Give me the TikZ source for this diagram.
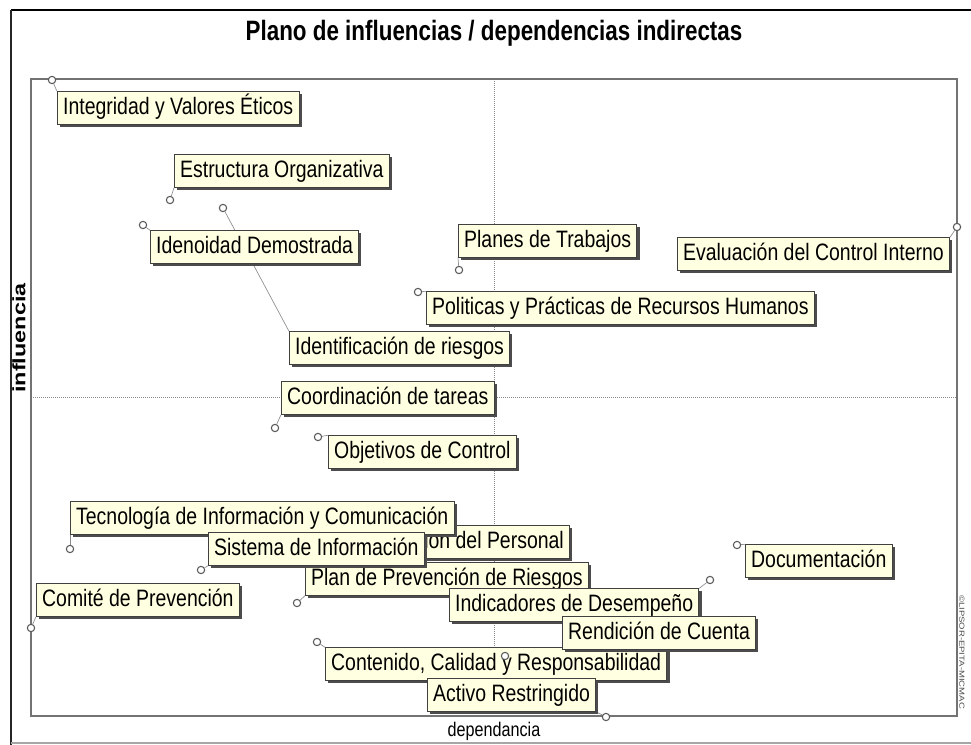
\documentclass[tikz,border=0pt]{standalone}
\usepackage{fontspec}
\setmainfont[FakeStretch=0.82]{Liberation Sans}
\newfontfamily\titlefont[FakeStretch=0.8]{Liberation Sans}
\newfontfamily\widefont[FakeStretch=1.3]{Liberation Sans}
\usetikzlibrary{shadows,backgrounds}
\definecolor{cream}{HTML}{FFFFE1}
\begin{document}
\begin{tikzpicture}[x=0.75pt,y=-0.75pt,
  lbl/.style={draw=black!75, line width=0.6pt, fill=cream, anchor=west,
    font=\fontsize{17.8}{20}\selectfont, inner xsep=4.3pt, inner ysep=0pt,
    minimum height=24.5pt, text height=12.9pt, text depth=3.7pt,
    drop shadow={shadow xshift=2pt,shadow yshift=-2pt,fill=black!70,opacity=1}},
  pt/.style={circle, draw=black!65, fill=white, line width=0.8pt, inner sep=0pt, minimum size=5.5pt},
  conn/.style={draw=black!45, line width=0.5pt},
  gridline/.style={black!45, densely dotted, line width=0.5pt}]
\useasboundingbox (0,0) rectangle (971,745);
% outer frame
\draw[black, line width=1.8pt] (11,10) -- (971,10);
\draw[black!85, line width=1.5pt] (11,10) -- (11,745);
\draw[black!35, line width=0.8pt] (11,743) -- (971,743);
% plot frame and mid lines
\draw[gridline] (494,79) -- (494,716);
\draw[gridline] (31,397) -- (957,397);
\draw[black!55, line width=1.4pt] (31,79) rectangle (957,716);
% title and axes
\node[font=\titlefont\bfseries\fontsize{21}{24}\selectfont] (title) at (494,33) {Plano de influencias / dependencias indirectas};
\node[font=\fontsize{14.8}{16}\selectfont] (xlab) at (494,731) {dependancia};
\node[rotate=90, font=\widefont\bfseries\fontsize{13.5}{15}\selectfont] (ylab) at (19,338) {influencia};
\node[rotate=-90, font=\widefont\fontsize{5.5}{6}\selectfont, text=black!70] (copy) at (962,652) {©LIPSOR-EPITA-MICMAC};
% labels
\node[lbl] (integ) at (57,108) {Integridad y Valores Éticos};
\node[lbl] (estr) at (174,171) {Estructura Organizativa};
\node[lbl] (iden) at (150,247) {Idenoidad Demostrada};
\node[lbl] (planes) at (458,241) {Planes de Trabajos};
\node[lbl] (eval) at (677,254) {Evaluación del Control Interno};
\node[lbl] (polit) at (426,308) {Politicas y Prácticas de Recursos Humanos};
\node[lbl] (ident) at (289,348) {Identificación de riesgos};
\node[lbl] (coord) at (281,398) {Coordinación de tareas};
\node[lbl] (objet) at (328,452) {Objetivos de Control};
\node[lbl, anchor=east] (pers) at (570,542) {Capacitación del Personal};
\node[lbl] (tecno) at (70,518) {Tecnología de Información y Comunicación};
\node[lbl] (planp) at (305,579) {Plan de Prevención de Riesgos};
\node[lbl] (sist) at (208,549) {Sistema de Información};
\node[lbl] (comite) at (36,600) {Comité de Prevención};
\node[lbl] (docu) at (745,561) {Documentación};
\node[lbl] (conte) at (325,664) {Contenido, Calidad y Responsabilidad};
\node[lbl] (indic) at (449,605) {Indicadores de Desempeño};
\node[lbl] (rendi) at (562,633) {Rendición de Cuenta};
\node[lbl] (activo) at (427,695) {Activo Restringido};
% points
\node[pt] (p-integ) at (52,80) {};
\node[pt] (p-estr) at (170,200) {};
\node[pt] (p-iden) at (143,225) {};
\node[pt] (p-ident) at (223,208) {};
\node[pt] (p-planes) at (459,270) {};
\node[pt] (p-eval) at (957,227) {};
\node[pt] (p-polit) at (418,292) {};
\node[pt] (p-coord) at (275,428) {};
\node[pt] (p-objet) at (318,437) {};
\node[pt] (p-tecno) at (70,549) {};
\node[pt] (p-sist) at (201,570) {};
\node[pt] (p-planp) at (297,603) {};
\node[pt] (p-comite) at (31,628) {};
\node[pt] (p-docu) at (737,545) {};
\node[pt] (p-indic) at (710,580) {};
\node[pt] (p-conte) at (317,642) {};
\node[pt] (p-rendi) at (505,656) {};
\node[pt] (p-activo) at (606,717) {};
% connectors
\begin{scope}[on background layer]
\draw[conn] (p-integ) -- (integ.north west);
\draw[conn] (p-estr) -- (estr.south west);
\draw[conn] (p-iden) -- (iden.north west);
\draw[conn] (p-ident) -- (ident.north west);
\draw[conn] (p-planes) -- (planes.south west);
\draw[conn] (p-eval) -- (eval.north east);
\draw[conn] (p-polit) -- (polit.north west);
\draw[conn] (p-coord) -- (coord.south west);
\draw[conn] (p-objet) -- (objet.north west);
\draw[conn] (p-tecno) -- (tecno.south west);
\draw[conn] (p-sist) -- (sist.south west);
\draw[conn] (p-planp) -- (planp.south west);
\draw[conn] (p-comite) -- (comite.south west);
\draw[conn] (p-docu) -- (docu.north west);
\draw[conn] (p-indic) -- (indic.north east);
\draw[conn] (p-conte) -- (conte.north west);
\draw[conn] (p-activo) -- (activo.south east);
\end{scope}
\end{tikzpicture}
\end{document}
